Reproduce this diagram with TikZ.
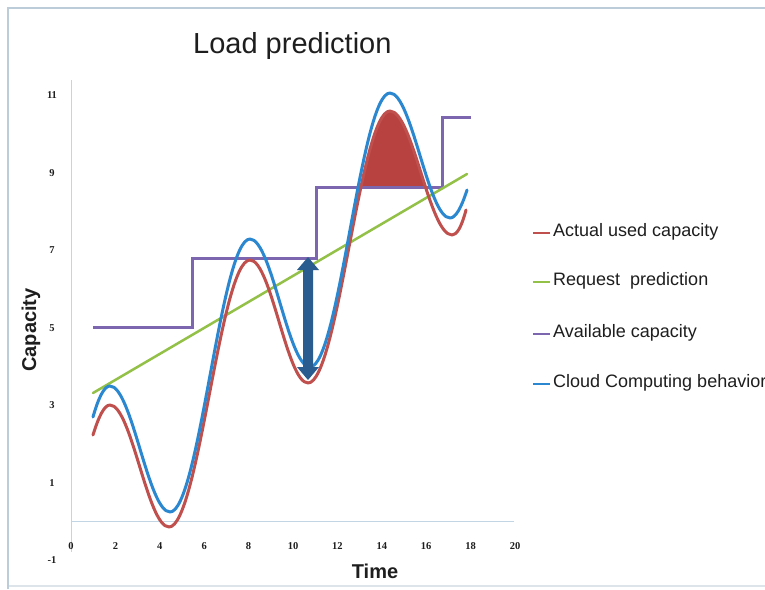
\documentclass[tikz,border=0pt]{standalone}
\usepackage{fontspec}
\newfontfamily\lsans{Liberation Sans}
\newfontfamily\lserif{Liberation Serif}
\definecolor{usedred}{HTML}{C0504D}
\definecolor{fillred}{HTML}{B8423F}
\definecolor{cloudblue}{HTML}{2B88D0}
\definecolor{predgreen}{HTML}{93C047}
\definecolor{availpurple}{HTML}{7D66B0}
\definecolor{arrowblue}{HTML}{2A5C90}
\definecolor{axisline}{HTML}{C2D5E4}
\definecolor{framecol}{HTML}{BCCCD9}
\definecolor{textcol}{HTML}{1E1E1E}
\tikzset{
  series/.style={line width=3pt, line cap=round, line join=round},
  axisstroke/.style={draw=axisline, line width=0.9pt},
  framestroke/.style={draw=framecol, line width=1.2pt},
  ticklabel/.style={inner sep=0pt, text=textcol, font=\lserif\bfseries\fontsize{10.5}{10.5}\selectfont},
  legendtext/.style={anchor=base west, inner sep=0pt, text=textcol, font=\lsans\fontsize{18}{18}\selectfont},
  legendmark/.style={line width=2pt},
  axistitle/.style={anchor=base, inner sep=0pt, text=textcol, font=\lsans\bfseries\fontsize{20}{20}\selectfont}
}
\begin{document}
\begin{tikzpicture}[x=1pt,y=-1pt]
\useasboundingbox (0,0) rectangle (765,589);
\fill[white] (0,0) rectangle (765,589);
\clip (0,0) rectangle (765,589);

% outer frame of the chart area
\draw[framestroke] (8,589) -- (8,8) -- (765,8);
\draw[framestroke, draw opacity=0.5] (8,586) -- (765,586);

% title
\node[anchor=base west, inner sep=0pt, text=textcol, font=\lsans\fontsize{29}{29}\selectfont] (title) at (193,53) {Load prediction};

% axes
\draw[axisstroke] (71,80) -- (71,552);
\draw[axisstroke] (71,521.5) -- (514,521.5);

% tick labels
\foreach \v in {0,2,...,20}
  \node[ticklabel] (xt\v) at ({71+22.2*\v},546) {\v};
\foreach \v in {-1,1,...,11}
  \node[ticklabel] (yt\v) at (52,{521.5-38.75*\v}) {\v};

% axis titles
\node[axistitle, rotate=90] (ylab) at (36,330) {Capacity};
\node[axistitle] (xlab) at (375,578) {Time};

% overload area: used capacity above the available capacity
\begin{scope}
  \clip (0,0) rectangle (765,187);
  \fill[fillred] (308,383) .. controls (337.8,383) and (360.2,111) .. (390,111)
    .. controls (412.6,111) and (429.4,235) .. (452,235) -- cycle;
\end{scope}

% available capacity (steps)
\draw[series, availpurple, line cap=butt, line join=miter] (93,327) -- (192,327) -- (192,258) -- (316,258) -- (316,187) -- (442,187) -- (442,117) -- (471,117);

% request prediction
\draw[series, predgreen, line width=2.5pt] (93,393) -- (467,174);

% actual used capacity
\draw[series, usedred] (93,435) .. controls (98.7,416.5) and (104.3,405) .. (110,405)
  .. controls (131.5,405) and (147.5,527) .. (169,527)
  .. controls (198.5,527) and (220.5,260) .. (250,260)
  .. controls (271.1,260) and (286.9,383) .. (308,383)
  .. controls (337.8,383) and (360.2,111) .. (390,111)
  .. controls (412.6,111) and (429.4,235) .. (452,235)
  .. controls (456.7,235) and (461.3,227.7) .. (466,210);

% cloud computing behaviour
\draw[series, cloudblue] (93,417) .. controls (98.7,397) and (104.3,386) .. (110,386)
  .. controls (131.8,386) and (148.2,512) .. (170,512)
  .. controls (199.1,512) and (220.9,239) .. (250,239)
  .. controls (271.8,239) and (288.2,367) .. (310,367)
  .. controls (339.1,367) and (360.9,93) .. (390,93)
  .. controls (411.8,93) and (428.2,218) .. (450,218)
  .. controls (455.7,218) and (461.3,207.7) .. (467,190);

% double-headed gap arrow
\fill[arrowblue] (308,257) -- (319,270) -- (313,270) -- (313,367) -- (319,367) -- (308,380)
  -- (297,367) -- (303,367) -- (303,270) -- (297,270) -- cycle;

% legend
\draw[legendmark, usedred] (533,233) -- (550,233);
\node[legendtext] (lg1) at (553,236) {Actual used capacity};
\draw[legendmark, predgreen] (533,282) -- (550,282);
\node[legendtext] (lg2) at (553,285) {Request\ \ prediction};
\draw[legendmark, availpurple] (533,334) -- (550,334);
\node[legendtext] (lg3) at (553,337) {Available capacity};
\draw[legendmark, cloudblue] (533,384) -- (550,384);
\node[legendtext] (lg4) at (553,387) {Cloud Computing behavior};
\end{tikzpicture}
\end{document}
